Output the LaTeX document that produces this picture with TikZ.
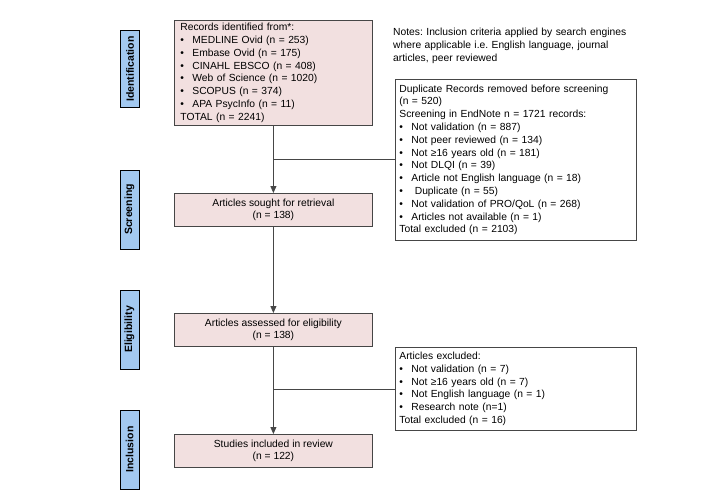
\documentclass[tikz,border=0pt]{standalone}
\usepackage{fontspec}
\setmainfont{Liberation Sans}
\usetikzlibrary{arrows.meta}
\definecolor{boxpink}{RGB}{242,224,224}
\definecolor{phaseblue}{RGB}{163,201,240}
\definecolor{linegray}{RGB}{70,70,70}
\newcommand{\bul}{\makebox[12pt][l]{\textbullet}}
\frenchspacing
\begin{document}
\begin{tikzpicture}[x=1pt,y=-1pt,
  every node/.style={font=\fontsize{10.3}{12.8}\selectfont},
  pinkbox/.style={draw=linegray, line width=0.8pt, fill=boxpink, minimum width=198pt, inner sep=0pt, anchor=north west},
  whitebox/.style={draw=linegray, line width=0.8pt, fill=white, minimum width=241pt, inner sep=0pt, anchor=north west, align=left, text width=233pt},
  phase/.style={draw=black, line width=0.8pt, fill=phaseblue, minimum height=19pt, inner sep=0pt, rotate=90, font=\fontsize{10.5}{11}\selectfont\bfseries},
  conn/.style={draw=linegray, line width=0.8pt},
  arr/.style={conn, -{Triangle[length=7pt,width=6pt]}}
]
\useasboundingbox (0,0) rectangle (709,496);
\fill[white] (0,0) rectangle (709,496);

% phase labels
\node[phase, minimum width=77pt] (pid) at (130,69) {Identification};
\node[phase, minimum width=79pt] (pscr) at (129.5,209.5) {Screening};
\node[phase, minimum width=79pt] (pel) at (129.5,329.5) {Eligibility};
\node[phase, minimum width=79pt] (pinc) at (129.5,449.5) {Inclusion};

% main boxes
\node[pinkbox, minimum height=105pt, text width=186pt, align=left] (records) at (174,20) {%
Records identified from*:\\
\bul MEDLINE Ovid (n = 253)\\
\bul Embase Ovid (n = 175)\\
\bul CINAHL EBSCO (n = 408)\\
\bul Web of Science (n = 1020)\\
\bul SCOPUS (n = 374)\\
\bul APA PsycInfo (n = 11)\\
TOTAL (n = 2241)};

\node[pinkbox, minimum height=33pt, align=center] (sought) at (174,193) {Articles sought for retrieval\\(n = 138)};
\node[pinkbox, minimum height=33pt, align=center] (assessed) at (174,313) {Articles assessed for eligibility\\(n = 138)};
\node[pinkbox, minimum height=33pt, align=center] (included) at (174,434) {Studies included in review\\(n = 122)};

% notes
\node[anchor=north west, inner sep=0pt, align=left, text width=245pt] (notes) at (393,28) {Notes: Inclusion criteria applied by search engines\\where applicable i.e. English language, journal\\articles, peer reviewed};

% exclusion boxes
\node[whitebox, minimum height=161pt] (dup) at (395,79) {%
Duplicate Records removed before screening\\
(n = 520)\\
Screening in EndNote n = 1721 records:\\
\bul Not validation (n = 887)\\
\bul Not peer reviewed (n = 134)\\
\bul Not ≥16 years old (n = 181)\\
\bul Not DLQI (n = 39)\\
\bul Article not English language (n = 18)\\
\bul \ Duplicate (n = 55)\\
\bul Not validation of PRO/QoL (n = 268)\\
\bul Articles not available (n = 1)\\
Total excluded (n = 2103)};

\node[whitebox, minimum height=83pt] (excl) at (395,347) {%
Articles excluded:\\
\bul Not validation (n = 7)\\
\bul Not ≥16 years old (n = 7)\\
\bul Not English language (n = 1)\\
\bul Research note (n=1)\\
Total excluded (n = 16)};

% connectors
\coordinate (b1) at (273,159);
\coordinate (b2) at (273,389);
\draw[arr] (records.south) -- (sought.north);
\draw[conn] (b1) -- (dup.west |- b1);
\draw[arr] (sought.south) -- (assessed.north);
\draw[arr] (assessed.south) -- (included.north);
\draw[conn] (b2) -- (excl.west |- b2);
\end{tikzpicture}
\end{document}
